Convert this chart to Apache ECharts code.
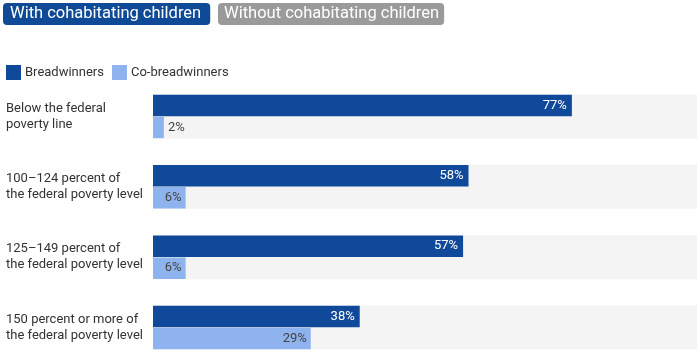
<!DOCTYPE html>
<html><head><meta charset="utf-8">
<script src="https://cdn.jsdelivr.net/npm/echarts@6/dist/echarts.min.js"></script>
<style>html,body{margin:0;padding:0;background:#fff}#c{width:700px;height:355px}</style>
</head><body><div id="c"></div>
<script>
const categories = ["Below the federal\npoverty line", "100–124 percent of\nthe federal poverty level", "125–149 percent of\nthe federal poverty level", "150 percent or more of\nthe federal poverty level"];
const breadwinners = [77, 58, 57, 38];
const coBreadwinners = [2, 6, 6, 29];
const backgroundValues = [100, 100, 100, 100];

const DARK = '#11499a', LIGHT = '#8fb3ee', BG = '#f4f4f4';
const chart = echarts.init(document.getElementById('c'));
chart.setOption({
  animation: false,
  textStyle: { fontFamily: 'Roboto' },
  title: [
    { text: 'With cohabitating children', left: 3, top: 3, padding: [2, 9, 2, 7], backgroundColor: '#0f4a97', borderRadius: 4,
      textStyle: { color: '#fff', fontSize: 16.5, lineHeight: 18, fontWeight: 'normal', fontFamily: 'Roboto' } },
    { text: 'Without cohabitating children', left: 218, top: 3, padding: [2, 5, 2, 6], backgroundColor: '#9a9a9a', borderRadius: 4,
      textStyle: { color: '#fff', fontSize: 16.5, lineHeight: 18, fontWeight: 'normal', fontFamily: 'Roboto' } }
  ],
  legend: {
    data: ['Breadwinners', 'Co-breadwinners'], left: 6, top: 65, padding: 0, itemWidth: 15, itemHeight: 15, itemGap: 8,
    icon: 'rect', textStyle: { fontSize: 13, color: '#333', padding: [0, 0, 0, -1] }
  },
  grid: { left: 153, top: 116.5, width: 544, height: 211 },
  xAxis: [{ type: 'value', min: 0, max: 100, show: false }],
  yAxis: [
    { type: 'category', data: categories, inverse: true, boundaryGap: false, axisLine: { show: false }, axisTick: { show: false },
      axisLabel: { align: 'left', margin: 147, fontSize: 13, color: '#333', lineHeight: 16 } },
    { type: 'category', data: categories, inverse: true, boundaryGap: false, show: false }
  ],
  series: [
    { type: 'bar', name: 'bg', yAxisIndex: 1, data: backgroundValues, barWidth: 44, silent: true, z: 1,
      itemStyle: { color: BG } },
    { type: 'bar', name: 'Breadwinners', data: breadwinners, barWidth: 21.5, barGap: '2%', z: 2,
      itemStyle: { color: DARK },
      label: { show: true, position: 'insideRight', color: '#fff', fontSize: 13, distance: 5, formatter: '{c}%' } },
    { type: 'bar', name: 'Co-breadwinners', z: 2, barWidth: 21.5,
      data: coBreadwinners.map(v => ({ value: v, label: { position: v < 4 ? 'right' : 'insideRight' } })),
      itemStyle: { color: LIGHT },
      label: { show: true, color: '#444', fontSize: 13, distance: 4, formatter: '{c}%' } }
  ]
});
</script></body></html>
